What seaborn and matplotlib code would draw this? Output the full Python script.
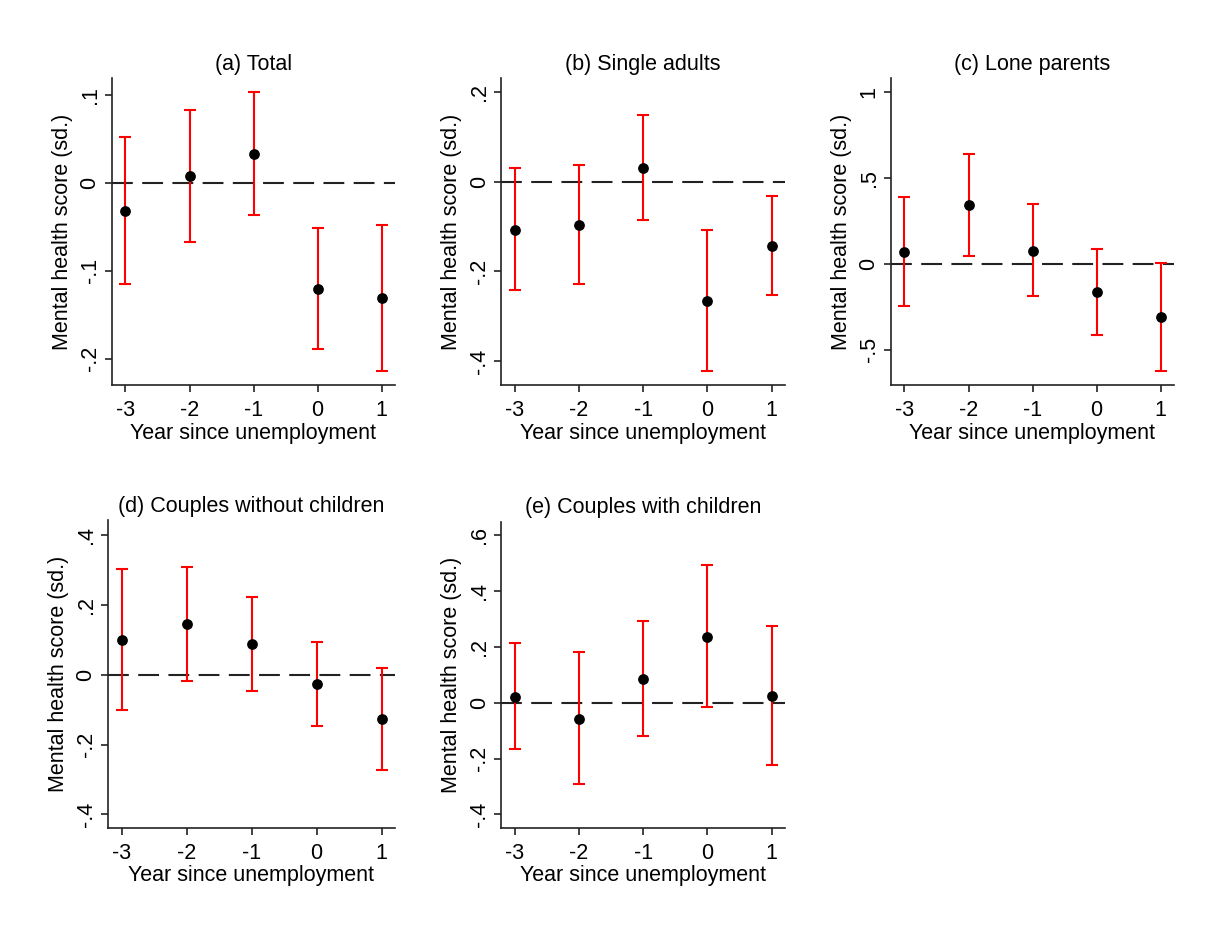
import numpy as np
import pandas as pd
import matplotlib
matplotlib.use("Agg")
import matplotlib.pyplot as plt
import seaborn as sns

sns.set_theme(style="white")
plt.rcParams['font.family'] = ['Liberation Sans', 'DejaVu Sans']
plt.rcParams['text.color'] = 'black'
plt.rcParams['axes.labelcolor'] = 'black'
plt.rcParams['xtick.color'] = 'black'
plt.rcParams['ytick.color'] = 'black'

years = [-3, -2, -1, 0, 1]

titles = ["(a) Total", "(b) Single adults", "(c) Lone parents",
          "(d) Couples without children", "(e) Couples with children"]

# point estimates and 95% CI bounds
est_a = [-0.032, 0.008, 0.032, -0.121, -0.131]
lo_a = [-0.115, -0.068, -0.037, -0.189, -0.214]
hi_a = [0.052, 0.083, 0.103, -0.052, -0.048]

est_b = [-0.107, -0.096, 0.031, -0.267, -0.144]
lo_b = [-0.242, -0.229, -0.086, -0.423, -0.254]
hi_b = [0.030, 0.037, 0.149, -0.109, -0.032]

est_c = [0.068, 0.341, 0.076, -0.167, -0.312]
lo_c = [-0.246, 0.045, -0.188, -0.415, -0.626]
hi_c = [0.390, 0.640, 0.345, 0.085, 0.006]

est_d = [0.099, 0.145, 0.088, -0.026, -0.128]
lo_d = [-0.101, -0.017, -0.046, -0.147, -0.274]
hi_d = [0.303, 0.308, 0.223, 0.095, 0.019]

est_e = [0.022, -0.057, 0.086, 0.237, 0.024]
lo_e = [-0.165, -0.291, -0.118, -0.014, -0.224]
hi_e = [0.212, 0.180, 0.292, 0.492, 0.276]

yticks_a = [-0.2, -0.1, 0.0, 0.1]
ylabels_a = ["-.2", "-.1", "0", ".1"]
yticks_b = [-0.4, -0.2, 0.0, 0.2]
ylabels_b = ["-.4", "-.2", "0", ".2"]
yticks_c = [-0.5, 0.0, 0.5, 1.0]
ylabels_c = ["-.5", "0", ".5", "1"]
yticks_d = [-0.4, -0.2, 0.0, 0.2, 0.4]
ylabels_d = ["-.4", "-.2", "0", ".2", ".4"]
yticks_e = [-0.4, -0.2, 0.0, 0.2, 0.4, 0.6]
ylabels_e = ["-.4", "-.2", "0", ".2", ".4", ".6"]

xtick_labels = ["-3", "-2", "-1", "0", "1"]

panels = [
    (est_a, lo_a, hi_a, yticks_a, ylabels_a, (-0.23, 0.1186)),
    (est_b, lo_b, hi_b, yticks_b, ylabels_b, (-0.4535, 0.230)),
    (est_c, lo_c, hi_c, yticks_c, ylabels_c, (-0.705, 1.078)),
    (est_d, lo_d, hi_d, yticks_d, ylabels_d, (-0.438, 0.443)),
    (est_e, lo_e, hi_e, yticks_e, ylabels_e, (-0.4475, 0.648)),
]

W, H = 1214, 931
fig = plt.figure(figsize=(W / 100, H / 100), dpi=100)
fig.patch.set_facecolor("white")

# axes boxes in pixels: left, top, right, bottom
boxes = [
    (111.7, 78.3, 395, 385),
    (501, 78.3, 785, 385),
    (890.7, 78.3, 1174, 385),
    (107.7, 520, 395, 827.7),
    (501, 521.7, 785, 827.7),
]

fs = 15.5
spine_col = "#222222"

for (est, lo, hi, yt, yl, ylim), title, (l, t, r, b) in zip(panels, titles, boxes):
    ax = fig.add_axes([l / W, 1 - b / H, (r - l) / W, (b - t) / H])
    df = pd.DataFrame({"year": years, "est": est, "lo": lo, "hi": hi})
    ax.axhline(0, color="#222222", lw=1.5, dashes=(10, 4.5), zorder=1)
    err = np.vstack([df["est"] - df["lo"], df["hi"] - df["est"]])
    ax.errorbar(df["year"], df["est"], yerr=err, fmt="none", ecolor="#ff0000",
                elinewidth=1.5, capsize=4, capthick=1.5, zorder=2)
    sns.scatterplot(data=df, x="year", y="est", ax=ax, color="black", s=60,
                    edgecolor="black", linewidth=0, zorder=3)
    ax.set_xlim(-3.215, 1.207)
    ax.set_ylim(*ylim)
    ax.set_xticks(years)
    ax.set_xticklabels(xtick_labels, fontsize=fs, color="black")
    ax.set_yticks(yt)
    ax.set_yticklabels(yl, fontsize=fs, rotation=90, va="center", color="black")
    ax.set_xlabel("Year since unemployment", fontsize=fs, labelpad=1, color="black")
    ax.set_ylabel("Mental health score (sd.)", fontsize=fs, labelpad=5, color="black")
    ax.set_title(title, fontsize=fs, pad=6, color="black")
    for s in ["top", "right"]:
        ax.spines[s].set_visible(False)
    for s in ["left", "bottom"]:
        ax.spines[s].set_color(spine_col)
        ax.spines[s].set_linewidth(1.2)
    ax.tick_params(axis="both", direction="out", length=5, width=1.2,
                   color=spine_col, labelcolor="black", pad=3,
                   left=True, bottom=True)
    ax.tick_params(axis="x", pad=6)
    ax.set_facecolor("white")
    ax.grid(False)

fig.savefig("out.png", dpi=100, facecolor="white")
